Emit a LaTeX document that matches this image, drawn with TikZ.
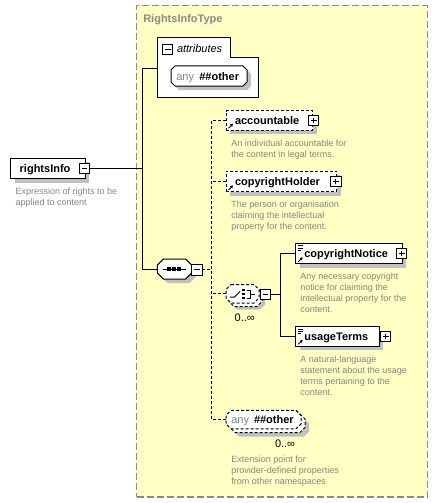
\documentclass[tikz,border=0pt]{standalone}
\usepackage{fontspec}
\setmainfont{Liberation Sans}
\usetikzlibrary{arrows.meta}
\definecolor{bgyellow}{HTML}{FFFFC4}
\definecolor{shadowgray}{HTML}{C0C0C0}
\definecolor{descgray}{HTML}{858585}
\definecolor{framegray}{HTML}{8A8A8A}
\tikzset{
 every node/.style={inner sep=0pt, outer sep=0pt},
 elem/.style={rectangle, draw=black, fill=white, line width=1pt, anchor=north west},
 optelem/.style={elem, dash pattern=on 3pt off 2pt},
 anchorbox/.style={rectangle, draw=none, fill=none, anchor=north west},
 pmbox/.style={rectangle, draw=black, fill=white, line width=1pt, minimum size=10.5pt},
 nm/.style={font=\fontsize{11}{13}\selectfont\bfseries, anchor=base west},
 reg/.style={font=\fontsize{11}{13}\selectfont, anchor=base west},
 desc/.style={font=\fontsize{9}{11}\selectfont, text=descgray, anchor=base west},
 conn/.style={line width=1pt},
 optconn/.style={line width=1pt, dash pattern=on 3pt off 2pt},
 octline/.style={draw=black, fill=white, line width=1pt},
 shad/.style={fill=shadowgray, draw=none},
 pics/pminus/.style={code={\node[pmbox] (-b) {}; \draw[line width=1pt] (-2.8pt,0) -- (2.8pt,0);}},
 pics/pplus/.style={code={\node[pmbox] (-b) {}; \draw[line width=1pt] (-2.8pt,0) -- (2.8pt,0) (0,-2.8pt) -- (0,2.8pt);}},
}
% #1 options, #2 x, #3 y, #4 w, #5 h, #6 chamfer
\newcommand\octshape[6]{\path[#1] ({#2+#6},#3) -- ({#2+#4-#6},#3) -- ({#2+#4},{#3+#6}) -- ({#2+#4},{#3+#5-#6}) -- ({#2+#4-#6},{#3+#5}) -- ({#2+#6},{#3+#5}) -- (#2,{#3+#5-#6}) -- (#2,{#3+#6}) -- cycle;}
\newcommand\rectshadow[4]{\fill[shadowgray] ({#1+4},{#2+4}) rectangle ++(#3,#4);}
\newcommand\dlines[4]{\foreach \dl [count=\i from 0] in {#4} {\node[desc] (#1-\i) at (#2, {#3+11*\i}) {\dl};}}
\newcommand\refarrow[1]{\draw[line width=0.9pt, -{Triangle[length=2.8pt,width=3pt]}] ([xshift=2.5pt,yshift=1.8pt]#1.south west) -- ++(4.5,-4.5);}
\newcommand\texticon[1]{\draw[line width=0.8pt] ([xshift=1.8pt,yshift=-2.3pt]#1.north west) -- ++(5.5,0) ([xshift=1.8pt,yshift=-4.4pt]#1.north west) -- ++(5.5,0) ([xshift=1.8pt,yshift=-6.5pt]#1.north west) -- ++(3.5,0);}
\begin{document}
\begin{tikzpicture}[x=1pt,y=-1pt]
\useasboundingbox (0,0) rectangle (438,503);
\fill[white] (0,0) rectangle (438,503);
% complex type frame
\node[draw=framegray, fill=bgyellow, line width=1.2pt, dash pattern=on 7pt off 3pt, minimum width=290.6pt, minimum height=491.5pt, anchor=north west] (typebox) at (136.7,5.5) {};
\node[nm, text=framegray] (typename) at (143.3,23) {RightsInfoType};
% attributes
\draw[line width=1pt, fill=white] (157.3,38) -- (230,38) -- (230,57.7) -- (258.3,57.7) -- (258.3,97.3) -- (157.3,97.3) -- cycle;
\coordinate (attrin) at (157.3,68.7);
\pic (attrpm) at (167.7,49.5) {pminus};
\node[font=\fontsize{11}{13}\selectfont\itshape, anchor=base west] (attrlbl) at (177,52.5) {attributes};
\octshape{shad}{175}{70}{76}{20}{4}
\octshape{octline}{171}{66}{76}{20}{4}
\node[anchorbox, minimum width=76pt, minimum height=20pt] (anyattr) at (171,66) {};
\node[reg, text=descgray] (anyattrA) at (176.3,80.5) {any};
\node[nm] (anyattrB) at (199.3,80.5) {\#\#other};
% rightsInfo
\rectshadow{10.7}{158.3}{74.3}{20.4}
\node[elem, minimum width=74.3pt, minimum height=20.4pt] (ri) at (10.7,158.3) {};
\node[nm] (rilbl) at (19.7,172.3) {rightsInfo};
\pic (ripm) at (84.5,168.5) {pminus};
\dlines{ridesc}{15.7}{194.2}{Expression of rights to be,applied to content}
% sequence
\octshape{shad}{161.3}{263}{34.4}{20}{6}
\octshape{octline}{157.3}{259}{34.4}{20}{6}
\node[anchorbox, minimum width=34.4pt, minimum height=20pt] (seq) at (157.3,259) {};
\draw[line width=1pt] (162.5,269) -- (186,269);
\foreach \xx in {169,174,179} {\fill (\xx-1.6,267.4) rectangle (\xx+1.6,270.6);}
\pic (seqpm) at (197,269.8) {pminus};
% accountable
\rectshadow{226}{110.7}{86.7}{19.3}
\node[optelem, minimum width=86.7pt, minimum height=19.3pt] (acc) at (226,110.7) {};
\node[nm] (acclbl) at (235,124.2) {accountable};
\pic (accpm) at (313.7,120.5) {pplus};
\refarrow{acc}
\dlines{accdesc}{231.3}{146}{An individual accountable for,the content in legal terms.}
% copyrightHolder
\rectshadow{226}{171}{110.7}{20.7}
\node[optelem, minimum width=110.7pt, minimum height=20.7pt] (holder) at (226,171) {};
\node[nm] (holderlbl) at (235,185.5) {copyrightHolder};
\pic (holderpm) at (335.8,181.5) {pplus};
\refarrow{holder}
\dlines{holderdesc}{231.3}{207.3}{The person or organisation,claiming the intellectual,property for the content.}
% choice
\octshape{shad}{232}{291}{33}{18.5}{5}
\octshape{octline, dash pattern=on 3pt off 2pt}{229}{288}{33}{18.5}{5}
\octshape{octline, dash pattern=on 3pt off 2pt}{226}{284.5}{33}{18.5}{5}
\node[anchorbox, minimum width=33pt, minimum height=18.5pt] (choice) at (226,284.5) {};
\draw[line width=1pt] (230,297) -- (234.5,297) -- (240,291.5);
\foreach \yy in {290,294,298} {\fill (242.3,\yy-1.3) rectangle (244.9,\yy+1.3);}
\draw[line width=1pt] (246.5,290) -- (250,290) -- (250,298) -- (246.5,298) (250,294) -- (254.5,294);
\pic (choicepm) at (265.5,294.5) {pminus};
\node[reg] (choiceocc) at (234.7,321.7) {0..∞};
% copyrightNotice
\rectshadow{295.7}{243.5}{106.3}{20}
\node[elem, minimum width=106.3pt, minimum height=20pt] (notice) at (295.7,243.5) {};
\node[nm] (noticelbl) at (304.3,257.8) {copyrightNotice};
\pic (noticepm) at (401.7,253.5) {pplus};
\refarrow{notice}
\texticon{notice}
\dlines{noticedesc}{300.3}{279.5}{Any necessary copyright,notice for claiming the,intellectual property for the,content.}
% usageTerms
\rectshadow{295.7}{326.7}{83.3}{19.5}
\node[elem, minimum width=83.3pt, minimum height=19.5pt] (usage) at (295.7,326.7) {};
\node[nm] (usagelbl) at (304.3,340.5) {usageTerms};
\pic (usagepm) at (385.7,336.5) {pplus};
\refarrow{usage}
\texticon{usage}
\dlines{usagedesc}{300.3}{362.3}{A natural-language,statement about the usage,terms pertaining to the,content.}
% any ##other element
\octshape{shad}{234}{418}{75}{18.5}{5}
\octshape{octline, dash pattern=on 3pt off 2pt}{230}{414}{75}{18.5}{5}
\octshape{octline, dash pattern=on 3pt off 2pt}{226}{410.3}{75}{18.5}{5}
\node[anchorbox, minimum width=75pt, minimum height=18.5pt] (anyel) at (226,410.3) {};
\node[reg, text=descgray] (anyelA) at (231.3,423.5) {any};
\node[nm] (anyelB) at (254,423.5) {\#\#other};
\node[reg] (anyelocc) at (275,447.5) {0..∞};
\dlines{anydesc}{231.3}{462}{Extension point for,provider-defined properties,from other namespaces}
% connectors
\coordinate (bus) at (142.7,68.7);
\coordinate (dbus) at (211.7,120);
\coordinate (cbus) at (280,250);
\draw[conn] (ripm-b.east) -- (ripm-b.east -| bus);
\draw[conn] (attrin) -- (bus) |- (seq.west);
\draw[optconn] (seqpm-b.east) -- (seqpm-b.east -| dbus);
\draw[optconn] (acc.west) -- (acc.west -| dbus) |- (anyel.west);
\draw[optconn] (holder.west) -- (holder.west -| dbus);
\draw[optconn] (choice.west) -- (choice.west -| dbus);
\draw[conn] (choicepm-b.east) -- (choicepm-b.east -| cbus);
\draw[conn] (notice.west) -- (notice.west -| cbus) |- (usage.west);
\end{tikzpicture}
\end{document}
